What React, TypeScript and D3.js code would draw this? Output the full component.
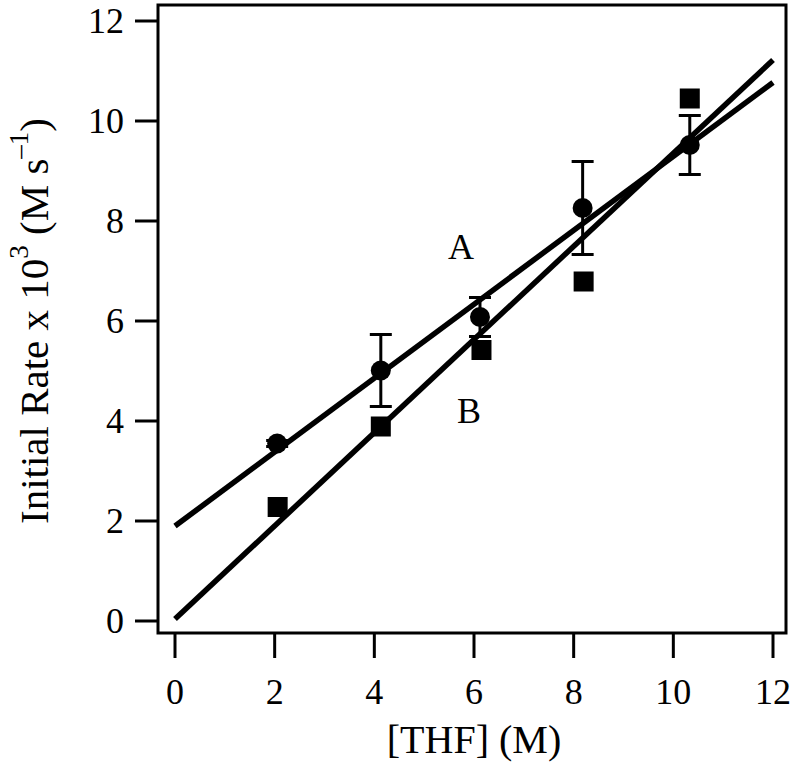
import React from "react";
import * as d3 from "d3";

const thfA = [2.05, 4.13, 6.12, 8.18, 10.33];
const rateA = [3.55, 5.01, 6.08, 8.26, 9.52];
const errA = [0.06, 0.72, 0.39, 0.93, 0.59];

const thfB = [2.06, 4.13, 6.15, 8.2, 10.33];
const rateB = [2.28, 3.89, 5.42, 6.79, 10.45];

// fitted lines: [x, y] end points
const fitA = [[0, 1.9], [12, 10.77]];
const fitB = [[0, 0.04], [12, 11.22]];

const xTicks = [0, 2, 4, 6, 8, 10, 12];
const yTicks = [0, 2, 4, 6, 8, 10, 12];

const W = 792;
const H = 764;
const FONT = "'Liberation Serif', 'DejaVu Serif', serif";

export default function App() {
  const x = d3.scaleLinear().domain([0, 12]).range([175, 773]);
  const y = d3.scaleLinear().domain([0, 12]).range([621, 21]);
  const line = d3
    .line<number[]>()
    .x((d) => x(d[0]))
    .y((d) => y(d[1]));

  const left = 158;
  const right = 786;
  const top = 5;
  const bottom = 633;

  return (
    <svg
      width={W}
      height={H}
      style={{ position: "absolute", left: 0, top: 0, background: "#fff" }}
      fontFamily={FONT}
    >
      {/* frame */}
      <path
        d={`M${left},${top}H${right}V${bottom}H${left}Z`}
        fill="none"
        stroke="#000"
        strokeWidth={3}
      />
      {/* y ticks */}
      {yTicks.map((t) => (
        <g key={"y" + t}>
          <line x1={135} x2={left} y1={y(t)} y2={y(t)} stroke="#000" strokeWidth={3} />
          <text x={124} y={y(t) + 12} textAnchor="end" fontSize={36}>
            {t}
          </text>
        </g>
      ))}
      {/* x ticks */}
      {xTicks.map((t) => (
        <g key={"x" + t}>
          <line x1={x(t)} x2={x(t)} y1={bottom} y2={658} stroke="#000" strokeWidth={3} />
          <text x={x(t)} y={704} textAnchor="middle" fontSize={36}>
            {t}
          </text>
        </g>
      ))}
      {/* axis titles */}
      <text x={474} y={753} textAnchor="middle" fontSize={40}>
        [THF] (M)
      </text>
      <text
        transform={`translate(48,321) rotate(-90)`}
        textAnchor="middle"
        fontSize={41}
      >
        Initial Rate x 10
        <tspan dy={-20} fontSize={27}>3</tspan>
        <tspan dy={20}> (M s</tspan>
        <tspan dy={-20} fontSize={27}>–1</tspan>
        <tspan dy={20}>)</tspan>
      </text>

      {/* fit lines */}
      <path d={line(fitA) || ""} stroke="#000" strokeWidth={5.5} fill="none" />
      <path d={line(fitB) || ""} stroke="#000" strokeWidth={5.5} fill="none" />

      {/* error bars A */}
      {thfA.map((xv, i) => (
        <g key={"e" + i} stroke="#000" strokeWidth={3}>
          <line x1={x(xv)} x2={x(xv)} y1={y(rateA[i] - errA[i])} y2={y(rateA[i] + errA[i])} />
          <line x1={x(xv) - 11} x2={x(xv) + 11} y1={y(rateA[i] - errA[i])} y2={y(rateA[i] - errA[i])} />
          <line x1={x(xv) - 11} x2={x(xv) + 11} y1={y(rateA[i] + errA[i])} y2={y(rateA[i] + errA[i])} />
        </g>
      ))}
      {/* circles A */}
      {thfA.map((xv, i) => (
        <circle key={"c" + i} cx={x(xv)} cy={y(rateA[i])} r={10} fill="#000" />
      ))}
      {/* squares B */}
      {thfB.map((xv, i) => (
        <rect key={"s" + i} x={x(xv) - 10} y={y(rateB[i]) - 10} width={20} height={20} fill="#000" />
      ))}

      <text x={461} y={259} textAnchor="middle" fontSize={36}>
        A
      </text>
      <text x={469} y={423} textAnchor="middle" fontSize={36}>
        B
      </text>
    </svg>
  );
}
